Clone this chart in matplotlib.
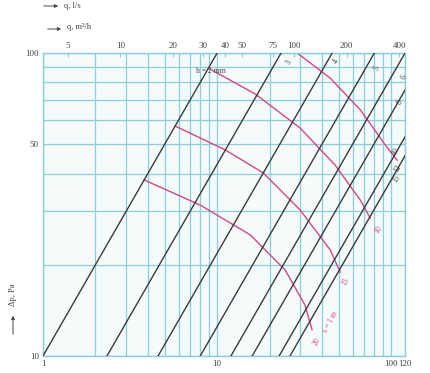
import matplotlib
matplotlib.use("Agg")
import matplotlib.pyplot as plt
from matplotlib.ticker import FixedLocator, NullLocator, FixedFormatter

plt.rcParams['font.family'] = ['Liberation Serif', 'DejaVu Serif']

# Straight characteristic lines: flow (l/s) at 10 Pa and at 100 Pa
line_q_at_10 = [1.0, 2.33, 4.58, 8.0, 12.0, 15.9, 22.7, 26.2]
line_q_at_100 = [10.0, 23.3, 45.8, 80.0, 120.0, 159.0, 227.0, 262.0]
line_labels = ["h = 2 mm", "3", "4", "5", "6", "8", "10", "12"]

# Curved lines (flow l/s, pressure Pa)
curve_q = [
    [28.8, 44.6, 66.4, 92.4, 108.0],
    [8.9, 16.5, 30.0, 47.7, 66.4, 75.7],
    [5.74, 11.1, 18.4, 30.0, 44.6, 50.9],
    [3.81, 7.98, 15.5, 24.6, 32.0, 35.1],
]
curve_dp = [
    [100.0, 82.6, 64.9, 49.7, 44.3],
    [89.1, 73.3, 56.5, 42.6, 32.7, 28.5],
    [57.4, 47.9, 40.2, 30.3, 22.4, 18.9],
    [38.1, 31.5, 25.1, 19.2, 14.7, 12.2],
]
curve_labels = ["", "10", "15", "20"]

x_grid = [1, 2, 3, 4, 5, 6, 7, 8, 9, 10, 20, 30, 40, 50, 60, 70, 80, 90, 100, 120]
y_grid = [10, 20, 30, 40, 50, 60, 70, 80, 90, 100]
x_tick_vals = [1, 10, 100, 120]
x_tick_text = ["1", "10", "100", "120"]
y_tick_vals = [10, 50, 100]
y_tick_text = ["10", "50", "100"]
top_tick_vals = [5, 10, 20, 30, 40, 50, 75, 100, 200, 400]
top_tick_text = ["5", "10", "20", "30", "40", "50", "75", "100", "200", "400"]

grid_c = "#8ccfdc"
pink = "#d2468a"
ink = "#3a3a3a"
txt = "#444444"

fig = plt.figure(figsize=(4.30, 3.73), dpi=100)
ax = fig.add_axes([0.100, 0.0456, 0.842, 0.8124])
ax.set_facecolor("#f5fbfb")
ax.set_xscale("log")
ax.set_yscale("log")
ax.set_xlim(1, 120)
ax.set_ylim(10, 100)

for xv in x_grid:
    ax.axvline(xv, color=grid_c, lw=0.9, zorder=1)
for yv in y_grid:
    ax.axhline(yv, color=grid_c, lw=0.9, zorder=1)

for q0, q1 in zip(line_q_at_10, line_q_at_100):
    ax.plot([q0, q1], [10, 100], color=ink, lw=1.0, zorder=3)

for qs, ps in zip(curve_q, curve_dp):
    ax.plot(qs, ps, color=pink, lw=1.0, zorder=2)

# labels for straight lines
ax.text(7.6, 86, "h = 2 mm", fontsize=5.5, color=txt, zorder=4)
ax.text(24.5, 92, "3", fontsize=5.5, color=txt, rotation=60)
ax.text(45.5, 93, "4", fontsize=5.5, color=txt, rotation=60)
ax.text(78, 88, "5", fontsize=5.5, color=txt, rotation=60)
ax.text(111, 82, "6", fontsize=5.5, color=txt, rotation=60)
ax.text(106, 68, "8", fontsize=5.5, color=txt, rotation=60)
ax.text(98, 46, "10", fontsize=5.5, color=txt, rotation=60)
ax.text(101, 40.5, "12", fontsize=5.5, color=txt, rotation=60)
ax.text(100, 37.5, "15", fontsize=5.5, color=txt, rotation=60)

# labels for curves
ax.text(79, 25.5, "10", fontsize=5.5, color=pink, rotation=60)
ax.text(51, 17.2, "15", fontsize=5.5, color=pink, rotation=60)
ax.text(35, 10.9, "20", fontsize=5.5, color=pink, rotation=60)
ax.text(40, 12.0, "s = 1 m", fontsize=5.5, color=pink, rotation=62)

for s in ax.spines.values():
    s.set_color(grid_c)
    s.set_linewidth(1.0)

ax.xaxis.set_major_locator(FixedLocator(x_tick_vals))
ax.xaxis.set_major_formatter(FixedFormatter(x_tick_text))
ax.xaxis.set_minor_locator(NullLocator())
ax.yaxis.set_major_locator(FixedLocator(y_tick_vals))
ax.yaxis.set_major_formatter(FixedFormatter(y_tick_text))
ax.yaxis.set_minor_locator(NullLocator())
ax.tick_params(axis="both", length=0, labelsize=6.5, labelcolor=txt, pad=3)

sec = ax.secondary_xaxis("top", functions=(lambda q: q * 3.6, lambda m: m / 3.6))
sec.xaxis.set_major_locator(FixedLocator(top_tick_vals))
sec.xaxis.set_major_formatter(FixedFormatter(top_tick_text))
sec.xaxis.set_minor_locator(NullLocator())
sec.tick_params(axis="x", direction="in", length=3, color=grid_c, labelsize=6.5,
                labelcolor=txt, pad=2)
sec.spines["top"].set_color(grid_c)

# axis captions with arrows
arrow = dict(arrowstyle="-|>", color=txt, lw=0.7, mutation_scale=5)
ax.annotate("", xy=(61, 367), xytext=(41, 367), xycoords="figure pixels",
            textcoords="figure pixels", arrowprops=arrow)
fig.text(64 / 430, 367 / 373, "q, l/s", fontsize=6, color=txt, va="center")
ax.annotate("", xy=(64, 344), xytext=(45, 344), xycoords="figure pixels",
            textcoords="figure pixels", arrowprops=arrow)
fig.text(67 / 430, 346 / 373, "q, m³/h", fontsize=6, color=txt, va="center")
ax.annotate("", xy=(13, 60), xytext=(13, 36), xycoords="figure pixels",
            textcoords="figure pixels", arrowprops=arrow)
fig.text(13 / 430, 78 / 373, "Δp, Pa", fontsize=6, color=txt, rotation=90,
         ha="center", va="center")

fig.savefig("out.png", dpi=100)
